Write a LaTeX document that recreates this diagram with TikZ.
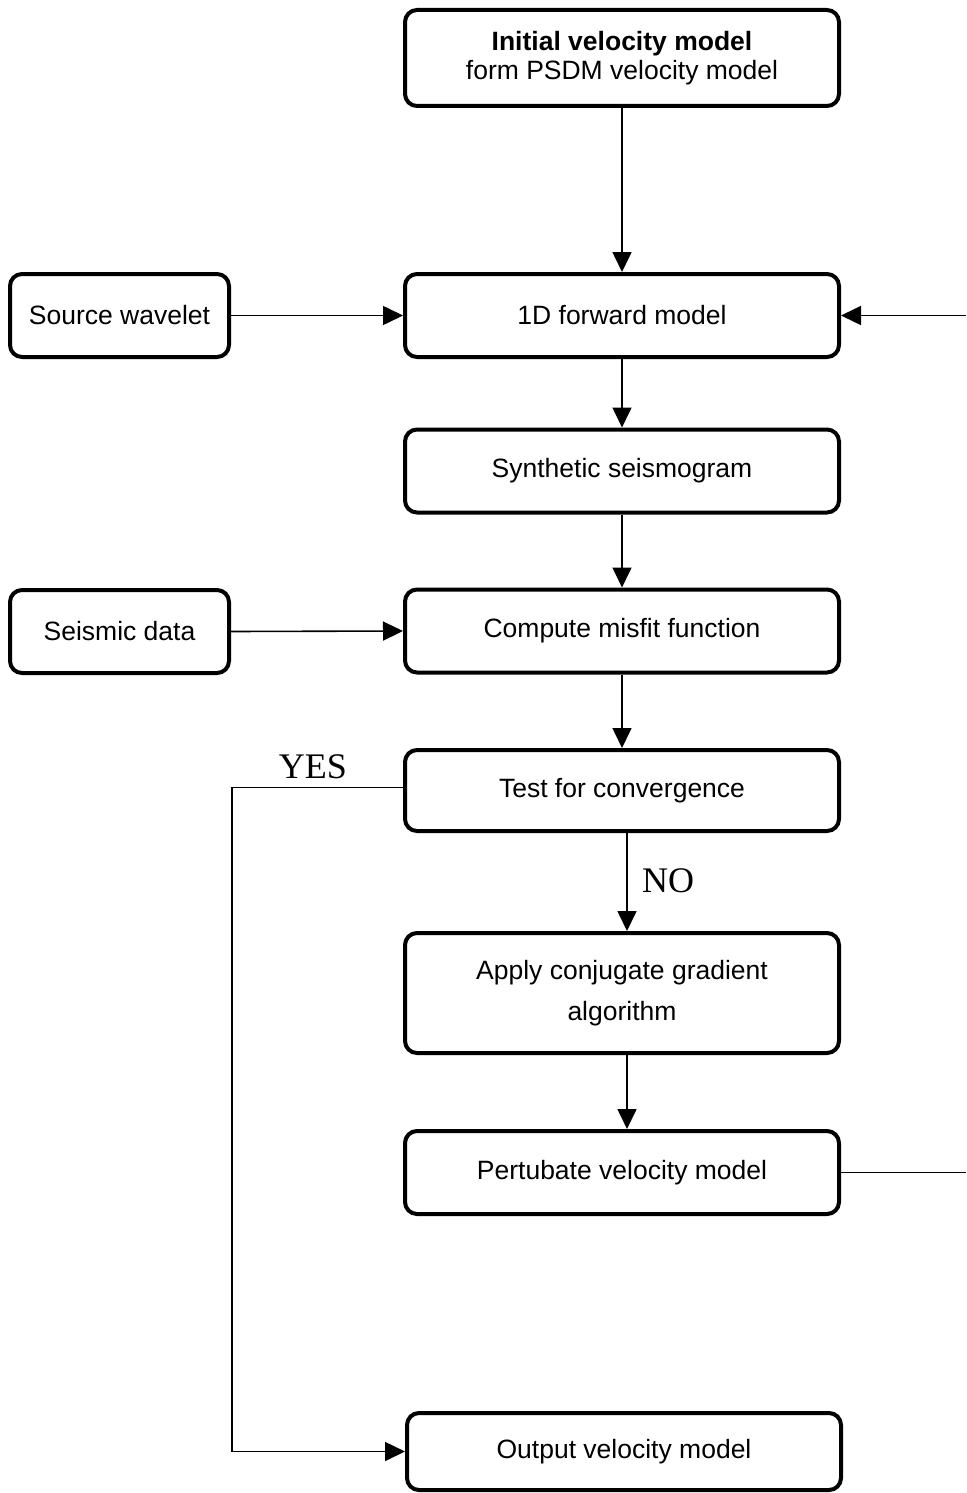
\documentclass[tikz,border=0pt]{standalone}
\usepackage{fontspec}
\setmainfont{Liberation Sans}
\newfontfamily\serifyes{Liberation Serif}
\usetikzlibrary{arrows.meta}
\begin{document}
\begin{tikzpicture}[x=1pt,y=-1pt,
 box/.style={draw, line width=4pt, rounded corners=12pt, minimum width=434pt, minimum height=83pt, inner sep=0pt, font=\fontsize{26.5}{30}\selectfont, align=center},
 sbox/.style={box, minimum width=219pt},
 conn/.style={line width=1.6pt},
 arr/.style={conn, -{Triangle[length=20pt,width=19pt]}},
 lbl/.style={font=\serifyes\fontsize{36}{40}\selectfont, inner sep=0pt}]
\useasboundingbox (0,0) rectangle (966,1493);
\node[box, minimum height=96pt] (init) at (622,58) {\textbf{Initial velocity model}\\[-1pt]form PSDM velocity model};
\node[sbox] (src) at (119.5,315.5) {Source wavelet};
\node[box] (fwd) at (622,315.5) {1D forward model};
\node[box] (syn) at (622,471) {Synthetic seismogram};
\node[sbox] (dat) at (119.5,631.5) {Seismic data};
\node[box] (mis) at (622,631) {Compute misfit function};
\node[box, minimum height=81pt] (test) at (622,790.5) {Test for convergence};
\node[box, minimum height=120pt] (apply) at (622,993) {Apply conjugate gradient\\[11pt]algorithm};
\node[box] (pert) at (622,1172.5) {Pertubate velocity model};
\node[box, minimum height=77pt] (out) at (624,1451.5) {Output velocity model};
\node[lbl] (yes) at (313,767) {YES};
\node[lbl] (no) at (668,881) {NO};
\coordinate (r1) at (966,315.5);
\coordinate (r2) at (966,1172.5);
\coordinate (yc) at (232,787.5);
\draw[arr] (init.south) -- (fwd.north);
\draw[arr] (fwd.south) -- (syn.north);
\draw[arr] (syn.south) -- (mis.north);
\draw[arr] (mis.south) -- (test.north);
\draw[arr] ([xshift=5pt]test.south) -- ([xshift=5pt]apply.north);
\draw[arr] ([xshift=5pt]apply.south) -- ([xshift=5pt]pert.north);
\draw[arr] (src.east) -- (fwd.west);
\draw[arr] (dat.east) -- (mis.west);
\draw[arr] (r1) -- (fwd.east);
\draw[conn] (pert.east) -- (r2);
\draw[arr] ([yshift=3pt]test.west) -- (yc) |- (out.west);
\end{tikzpicture}
\end{document}
